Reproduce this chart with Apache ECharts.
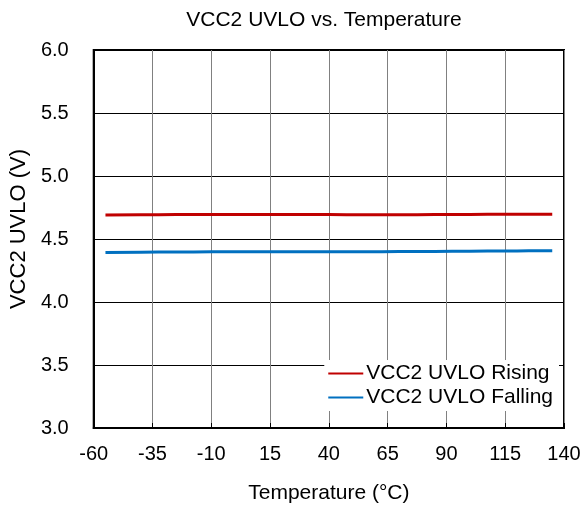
<!DOCTYPE html>
<html><head><meta charset="utf-8">
<script src="https://cdn.jsdelivr.net/npm/echarts@6/dist/echarts.min.js"></script>
<style>html,body{margin:0;padding:0;background:#fff}#c{width:584px;height:509px}</style>
</head><body><div id="c"></div>
<script>
const temps = [-55, -40, -25, -10, 5, 25, 40, 55, 70, 85, 100, 115, 125, 135];
const rising = [4.69, 4.692, 4.694, 4.695, 4.695, 4.695, 4.694, 4.693, 4.693, 4.694, 4.695, 4.696, 4.697, 4.697];
const falling = [4.392, 4.395, 4.397, 4.398, 4.399, 4.399, 4.399, 4.399, 4.4, 4.401, 4.403, 4.405, 4.406, 4.407];
const xTicks = [-60, -35, -10, 15, 40, 65, 90, 115, 140];
const yTicks = [3.0, 3.5, 4.0, 4.5, 5.0, 5.5, 6.0];
const font = 'Liberation Sans, Arial, sans-serif';
const chart = echarts.init(document.getElementById('c'));
chart.setOption({
  animation: false,
  backgroundColor: '#fff',
  title: {text: 'VCC2 UVLO vs. Temperature', left: 319, top: 5, textAlign: 'center',
    textStyle: {fontFamily: font, fontSize: 21, fontWeight: 'normal', color: '#000'}},
  grid: {left: 93, right: 20, top: 50, bottom: 81, show: true, borderColor: '#000', borderWidth: 2, backgroundColor: 'transparent'},
  legend: {right: 25, top: 360, orient: 'vertical', backgroundColor: '#fff', padding: [3, 6, 3, 4],
    itemWidth: 35, itemHeight: 2, itemGap: 3, icon: 'rect',
    textStyle: {fontFamily: font, fontSize: 21, color: '#000', padding: [0, 0, 0, -2]},
    data: ['VCC2 UVLO Rising', 'VCC2 UVLO Falling']},
  xAxis: {type: 'value', min: xTicks[0], max: xTicks[xTicks.length - 1], interval: 25,
    name: 'Temperature (°C)', nameLocation: 'middle', nameGap: 55,
    nameTextStyle: {fontFamily: font, fontSize: 21, color: '#000'},
    axisLine: {show: true, onZero: false, lineStyle: {color: '#000', width: 2}},
    axisTick: {show: true, inside: true, length: 5, lineStyle: {color: '#000'}},
    axisLabel: {fontFamily: font, fontSize: 20, color: '#000', margin: 16},
    splitLine: {show: true, lineStyle: {color: '#808080', width: 1}}},
  yAxis: {type: 'value', min: yTicks[0], max: yTicks[yTicks.length - 1], interval: 0.5,
    name: 'VCC2 UVLO (V)', nameLocation: 'middle', nameGap: 63, nameRotate: 90,
    nameTextStyle: {fontFamily: font, fontSize: 22, color: '#000', padding: [0, 0, 0, 20]},
    axisLine: {show: true, onZero: false, lineStyle: {color: '#000', width: 2}},
    axisTick: {show: false},
    axisLabel: {fontFamily: font, fontSize: 20, color: '#000', margin: 25,
      formatter: v => v.toFixed(1)},
    splitLine: {show: true, lineStyle: {color: '#000', width: 1}}},
  series: [
    {name: 'VCC2 UVLO Rising', type: 'line', showSymbol: false, smooth: true,
      lineStyle: {color: '#c00000', width: 3}, itemStyle: {color: '#c00000'},
      data: temps.map((t, i) => [t, rising[i]])},
    {name: 'VCC2 UVLO Falling', type: 'line', showSymbol: false, smooth: true,
      lineStyle: {color: '#0070c0', width: 3}, itemStyle: {color: '#0070c0'},
      data: temps.map((t, i) => [t, falling[i]])}
  ]
});
</script></body></html>
